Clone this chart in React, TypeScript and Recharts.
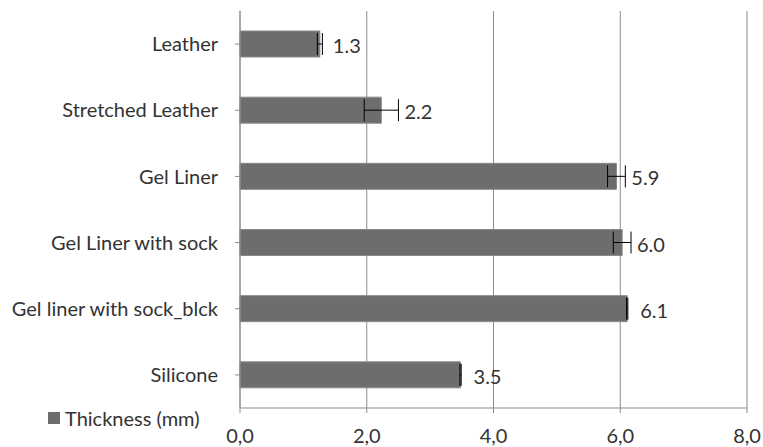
import { BarChart, Bar, XAxis, YAxis, CartesianGrid, ErrorBar, LabelList } from 'recharts';

const categories = ['Leather', 'Stretched Leather', 'Gel Liner', 'Gel Liner with sock', 'Gel liner with sock_blck', 'Silicone'];
const thickness = [1.26, 2.23, 5.94, 6.03, 6.11, 3.48];
const thicknessErr = [0.04, 0.27, 0.14, 0.14, 0.01, 0.01];
const xTicks = [0, 2, 4, 6, 8];

const data = categories.map((name, i) => ({
  name,
  thickness: thickness[i],
  err: thicknessErr[i],
}));

const FONT = 'Lato, "DejaVu Sans", sans-serif';
const TEXT = '#333333';
const BAR = '#6d6d6d';
const AXIS = '#8c8c8c';

// data label: sits after the bar end, pushed past the error cap if needed
const ValueLabel = (props: any) => {
  const { x, y, width, height, value, index } = props;
  const pxPerUnit = width / value;
  const errEnd = x + width + thicknessErr[index] * pxPerUnit;
  const lx = Math.max(x + width + 13, errEnd + 6);
  return (
    <text x={lx} y={y + height / 2 + 2} dy="0.355em" fontSize={20} fontFamily={FONT} fill={TEXT}>
      {Number(value).toFixed(1)}
    </text>
  );
};

export default function App() {
  return (
    <div style={{ position: 'absolute', left: 0, top: 0, width: 763, height: 447, background: '#fff' }}>
      <BarChart
        width={763}
        height={447}
        data={data}
        layout="vertical"
        margin={{ top: 11, right: 16, bottom: 9, left: 0 }}
        barSize={26}
      >
        <CartesianGrid horizontal={false} stroke={AXIS} strokeWidth={1} />
        <XAxis
          type="number"
          domain={[0, 8]}
          ticks={xTicks}
          tickFormatter={(v: number) => v.toFixed(1).replace('.', ',')}
          stroke={AXIS}
          height={30}
          tickSize={5}
          tickMargin={16}
          tick={{ fontSize: 20, fontFamily: FONT, fill: TEXT }}
        />
        <YAxis
          type="category"
          dataKey="name"
          width={240}
          stroke={AXIS}
          tickSize={5}
          tickMargin={17}
          tick={{ fontSize: 20, fontFamily: FONT, fill: TEXT }}
          interval={0}
        />
        <Bar dataKey="thickness" fill={BAR} stroke="#8a8a8a" strokeWidth={1} isAnimationActive={false}>
          <ErrorBar dataKey="err" direction="x" width={11} stroke="#000" strokeWidth={1} />
          <LabelList dataKey="thickness" content={ValueLabel} />
        </Bar>
      </BarChart>
      <div
        style={{
          position: 'absolute',
          left: 48,
          top: 406,
          display: 'flex',
          alignItems: 'center',
          fontFamily: FONT,
          fontSize: 20,
          color: TEXT,
        }}
      >
        <span style={{ display: 'inline-block', width: 12, height: 12, background: BAR, marginRight: 5 }} />
        Thickness (mm)
      </div>
    </div>
  );
}
